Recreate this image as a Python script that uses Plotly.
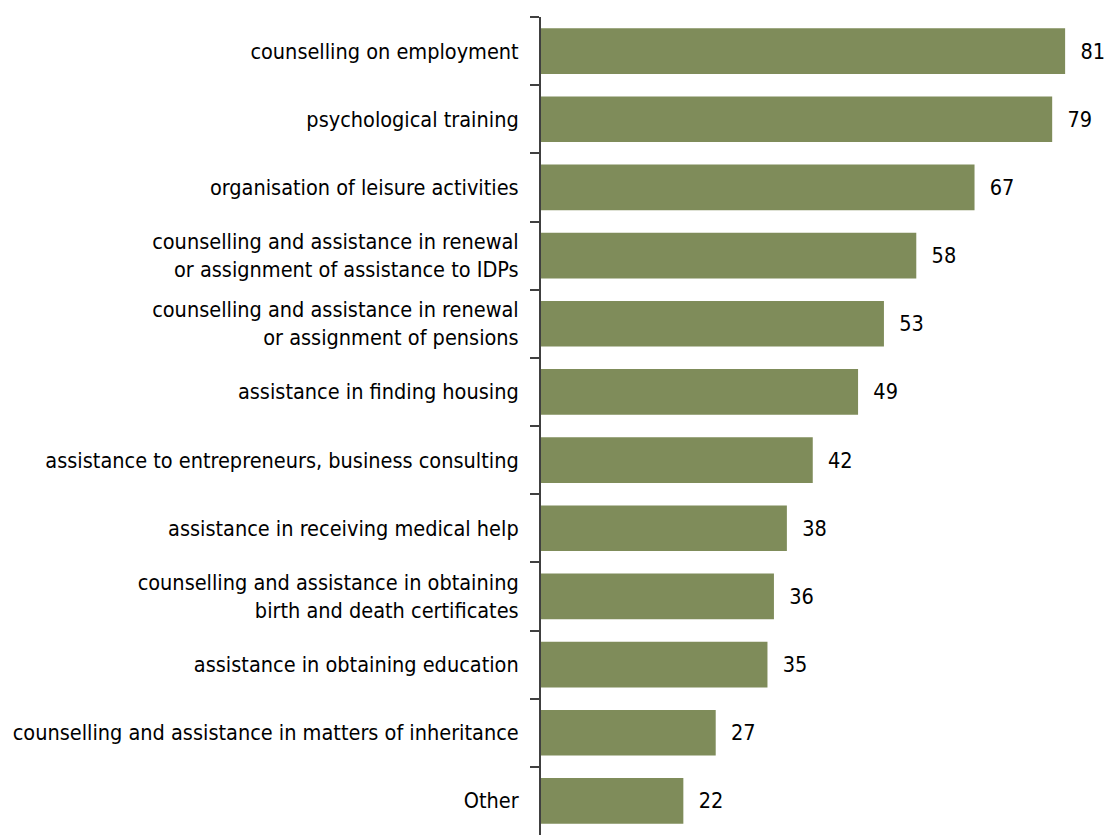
import plotly.graph_objects as go

# Services, listed top to bottom
categories = [
    "counselling on employment",
    "psychological training",
    "organisation of leisure activities",
    "counselling and assistance in renewal<br>or assignment of assistance to IDPs",
    "counselling and assistance in renewal<br>or assignment of pensions",
    "assistance in finding housing",
    "assistance to entrepreneurs, business consulting",
    "assistance in receiving medical help",
    "counselling and assistance in obtaining<br>birth and death certificates",
    "assistance in obtaining education",
    "counselling and assistance in matters of inheritance",
    "Other",
]
values = [81, 79, 67, 58, 53, 49, 42, 38, 36, 35, 27, 22]

FONT = "DejaVu Sans Condensed, Liberation Sans Narrow, Arial Narrow, sans-serif"
BAR_COLOR = "#7F8C5A"
AXIS_COLOR = "#404040"
FONT_SIZE = 21.5

fig = go.Figure(
    go.Bar(
        y=categories,
        x=values,
        orientation="h",
        marker=dict(color=BAR_COLOR, line=dict(width=0)),
        text=values,
        texttemplate="\u00a0\u00a0%{x}",
        textposition="outside",
        textfont=dict(family=FONT, size=FONT_SIZE, color="#000000"),
        cliponaxis=False,
    )
)

fig.update_layout(
    width=1120,
    height=840,
    margin=dict(l=541, r=29, t=17, b=5),
    paper_bgcolor="white",
    plot_bgcolor="white",
    bargap=0.33,
    showlegend=False,
    font=dict(family=FONT, size=FONT_SIZE, color="#000000"),
)

fig.update_xaxes(
    range=[0, 85],
    visible=False,
    showgrid=False,
    zeroline=False,
)

fig.update_yaxes(
    categoryorder="array",
    categoryarray=categories,
    autorange="reversed",
    showline=True,
    linecolor=AXIS_COLOR,
    linewidth=2,
    ticks="outside",
    tickson="boundaries",
    ticklen=9,
    tickwidth=2,
    tickcolor=AXIS_COLOR,
    ticklabelstandoff=16,
    showgrid=False,
    zeroline=False,
    tickfont=dict(family=FONT, size=FONT_SIZE, color="#000000"),
)

fig.write_html("out.html")
